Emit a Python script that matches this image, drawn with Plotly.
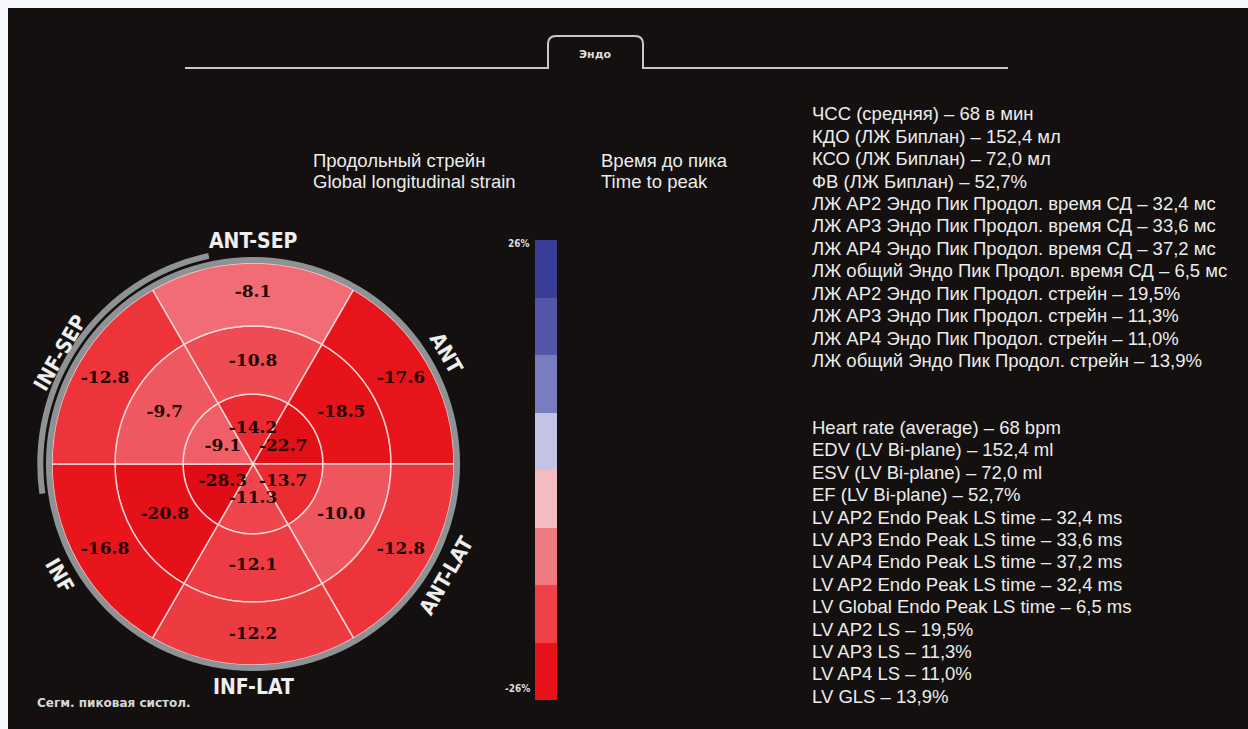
import math
import plotly.graph_objects as go

OFF = 8  # page margin (top / left) of the browser body
W, H = 1248 - OFF, 729 - OFF

# ---------------- data ----------------
segments = ["ANT-SEP", "ANT", "ANT-LAT", "INF-LAT", "INF", "INF-SEP"]
seg_angles = [90, 30, -30, -90, -150, 150]
basal = [-8.1, -17.6, -12.8, -12.2, -16.8, -12.8]
mid = [-10.8, -18.5, -10.0, -12.1, -20.8, -9.7]
apical = [-14.2, -22.7, -13.7, -11.3, -28.3, -9.1]

scale_min, scale_max = -26, 26
scale_top_label = "26%"
scale_bottom_label = "-26%"

tab_title = "Эндо"
heading_strain = ["Продольный стрейн", "Global longitudinal strain"]
heading_time = ["Время до пика", "Time to peak"]
footer_label = "Сегм. пиковая систол."

ru_lines = [
    "ЧСС (средняя) – 68 в мин",
    "КДО (ЛЖ Биплан) – 152,4 мл",
    "КСО (ЛЖ Биплан) – 72,0 мл",
    "ФВ (ЛЖ Биплан) – 52,7%",
    "ЛЖ AP2 Эндо Пик Продол. время СД – 32,4 мс",
    "ЛЖ AP3 Эндо Пик Продол. время СД – 33,6 мс",
    "ЛЖ AP4 Эндо Пик Продол. время СД – 37,2 мс",
    "ЛЖ общий Эндо Пик Продол. время СД – 6,5 мс",
    "ЛЖ AP2 Эндо Пик Продол. стрейн – 19,5%",
    "ЛЖ AP3 Эндо Пик Продол. стрейн – 11,3%",
    "ЛЖ AP4 Эндо Пик Продол. стрейн – 11,0%",
    "ЛЖ общий Эндо Пик Продол. стрейн – 13,9%",
]
en_lines = [
    "Heart rate (average) – 68 bpm",
    "EDV (LV Bi-plane) – 152,4 ml",
    "ESV (LV Bi-plane) – 72,0 ml",
    "EF (LV Bi-plane) – 52,7%",
    "LV AP2 Endo Peak LS time – 32,4 ms",
    "LV AP3 Endo Peak LS time – 33,6 ms",
    "LV AP4 Endo Peak LS time – 37,2 ms",
    "LV AP2 Endo Peak LS time – 32,4 ms",
    "LV Global Endo Peak LS time – 6,5 ms",
    "LV AP2 LS – 19,5%",
    "LV AP3 LS – 11,3%",
    "LV AP4 LS – 11,0%",
    "LV GLS – 13,9%",
]

# ---------------- styles ----------------
BG = "#13100f"
TXT = "#ececec"
band_colors = ["#e8121a", "#ee4248", "#f07a80", "#f3bcc0",
               "#c4c3e3", "#7a7cc0", "#5255a8", "#3a3d98"]  # bottom -> top
seg_scale_stops = [(-26, "#e10d16"), (-17, "#e8141c"), (-13, "#ec3238"),
                   (-9, "#f06068"), (-5, "#f3959c"), (0, "#f5c4c8"),
                   (4, "#c8c6e4"), (10, "#7a7cc0"), (17, "#5255a8"), (26, "#3a3d98")]
seg_colorscale = [[(v - scale_min) / (scale_max - scale_min), c] for v, c in seg_scale_stops]
n_b = len(band_colors)
band_colorscale = []
for i, c in enumerate(band_colors):
    band_colorscale.append([i / n_b, c])
    band_colorscale.append([(i + 1) / n_b, c])
band_step = (scale_max - scale_min) / n_b
band_mids = [scale_min + band_step * (i + 0.5) for i in range(n_b)]


def px(x):
    return (x - OFF) / W


def py(y):
    return 1 - (y - OFF) / H


# geometry (page px) of the bull's-eye
CX, CY = 253, 464
UNIT = 67.0           # px per radial unit
R_MAX = 3.3
ring_bounds = [(0, 1.045), (1.045, 2.06), (2.06, 3.0)]
ring_values = [apical, mid, basal]
label_r = [0.52, 1.52, 2.55]

fig = go.Figure()

for (r0, r1), vals in zip(ring_bounds, ring_values):
    fig.add_trace(go.Barpolar(
        r=[r1 - r0] * len(vals), base=[r0] * len(vals), theta=seg_angles,
        width=[60] * len(vals),
        marker=dict(color=vals, colorscale=seg_colorscale, cmin=scale_min, cmax=scale_max,
                    line=dict(color="rgba(255,228,228,0.85)", width=1.5)),
        showlegend=False, hoverinfo="skip"))

# grey outer ring + outer arc
fig.add_trace(go.Barpolar(r=[0.09], base=[3.0], theta=[0], width=[360],
                          marker=dict(color="#8e9294", line=dict(width=0)),
                          showlegend=False, hoverinfo="skip"))
fig.add_trace(go.Barpolar(r=[0.09], base=[3.13], theta=[145], width=[86],
                          marker=dict(color="#8e9294", line=dict(width=0)),
                          showlegend=False, hoverinfo="skip"))

for vals, rr in zip(ring_values, label_r):
    fig.add_trace(go.Scatterpolar(
        r=[rr] * len(vals), theta=seg_angles, mode="text",
        text=[f"{v:.1f}" for v in vals],
        textfont=dict(family="DejaVu Serif", size=17, color="#220606", weight="bold"),
        showlegend=False, hoverinfo="skip"))

fig.add_trace(go.Heatmap(z=[[m] for m in band_mids], x=[0], y=band_mids,
                         colorscale=band_colorscale, zmin=scale_min, zmax=scale_max,
                         showscale=False, hoverinfo="skip", xaxis="x", yaxis="y"))

annotations = []
for name, ang in zip(segments, seg_angles):
    rad = math.radians(ang)
    x = CX + 223 * math.cos(rad)
    y = CY - 223 * math.sin(rad)
    ta = 90 - ang
    while ta > 90:
        ta -= 180
    while ta <= -90:
        ta += 180
    annotations.append(dict(x=px(x), y=py(y), xref="paper", yref="paper", text=name,
                            showarrow=False, textangle=ta, xanchor="center", yanchor="middle",
                            font=dict(family="DejaVu Sans Condensed, DejaVu Sans", size=21,
                                      color="#eeeeee", weight="bold")))

annotations.append(dict(x=px(532), y=py(243), xref="paper", yref="paper", text=scale_top_label,
                        showarrow=False, xanchor="right", yanchor="middle",
                        font=dict(family="DejaVu Sans Condensed", size=10, color="#dddddd", weight="bold")))
annotations.append(dict(x=px(532), y=py(688), xref="paper", yref="paper", text=scale_bottom_label,
                        showarrow=False, xanchor="right", yanchor="middle",
                        font=dict(family="DejaVu Sans Condensed", size=10, color="#dddddd", weight="bold")))

annotations.append(dict(x=px(595), y=py(55), xref="paper", yref="paper", text=tab_title,
                        showarrow=False, xanchor="center", yanchor="middle",
                        font=dict(family="DejaVu Sans", size=11, color="#dddddd", weight="bold")))
annotations.append(dict(x=px(35), y=py(703), xref="paper", yref="paper", text=footer_label,
                        showarrow=False, xanchor="left", yanchor="middle",
                        font=dict(family="DejaVu Sans", size=12, color="#d8d8d8", weight="bold")))

FONT_TXT = dict(family="Liberation Sans, Arial", size=18.5, color=TXT)
for i, t in enumerate(heading_strain):
    annotations.append(dict(x=px(311), y=py(160 + 21.5 * i), xref="paper", yref="paper", text=t,
                            showarrow=False, xanchor="left", yanchor="middle", font=FONT_TXT))
for i, t in enumerate(heading_time):
    annotations.append(dict(x=px(599), y=py(160 + 21.5 * i), xref="paper", yref="paper", text=t,
                            showarrow=False, xanchor="left", yanchor="middle", font=FONT_TXT))
for i, t in enumerate(ru_lines):
    annotations.append(dict(x=px(810), y=py(114 + 22.4 * i), xref="paper", yref="paper", text=t,
                            showarrow=False, xanchor="left", yanchor="middle", font=FONT_TXT))
for i, t in enumerate(en_lines):
    annotations.append(dict(x=px(810), y=py(427.5 + 22.4 * i), xref="paper", yref="paper", text=t,
                            showarrow=False, xanchor="left", yanchor="middle", font=FONT_TXT))

tab_path = (f"M {px(185)},{py(68)} L {px(548)},{py(68)} L {px(548)},{py(44)} "
            f"Q {px(548)},{py(36)} {px(556)},{py(36)} L {px(635)},{py(36)} "
            f"Q {px(643)},{py(36)} {px(643)},{py(44)} L {px(643)},{py(68)} L {px(1008)},{py(68)}")

shapes = [
    dict(type="path", xref="paper", yref="paper", path=tab_path,
         line=dict(color="#c9c9c9", width=2)),
]

rp = R_MAX * UNIT
fig.update_layout(
    width=W, height=H, margin=dict(l=0, r=0, t=0, b=0),
    paper_bgcolor=BG, plot_bgcolor="rgba(0,0,0,0)",
    polar=dict(domain=dict(x=[px(CX - rp), px(CX + rp)], y=[py(CY + rp), py(CY - rp)]),
               bgcolor="rgba(0,0,0,0)", hole=0,
               radialaxis=dict(range=[0, R_MAX], visible=False, showgrid=False),
               angularaxis=dict(visible=False, rotation=0, direction="counterclockwise",
                                showgrid=False)),
    xaxis=dict(domain=[px(535), px(557)], range=[-0.5, 0.5], visible=False, fixedrange=True),
    yaxis=dict(domain=[py(700), py(240)], range=[scale_min, scale_max], visible=False, fixedrange=True),
    annotations=annotations, shapes=shapes, showlegend=False,
)

page_css = ("document.body.style.margin='8px 0 0 8px';"
            "document.body.style.overflow='hidden';"
            "document.body.style.background='#f5f7fa';"
            "document.documentElement.style.overflow='hidden';")
fig.write_html("out.html", post_script=page_css)
